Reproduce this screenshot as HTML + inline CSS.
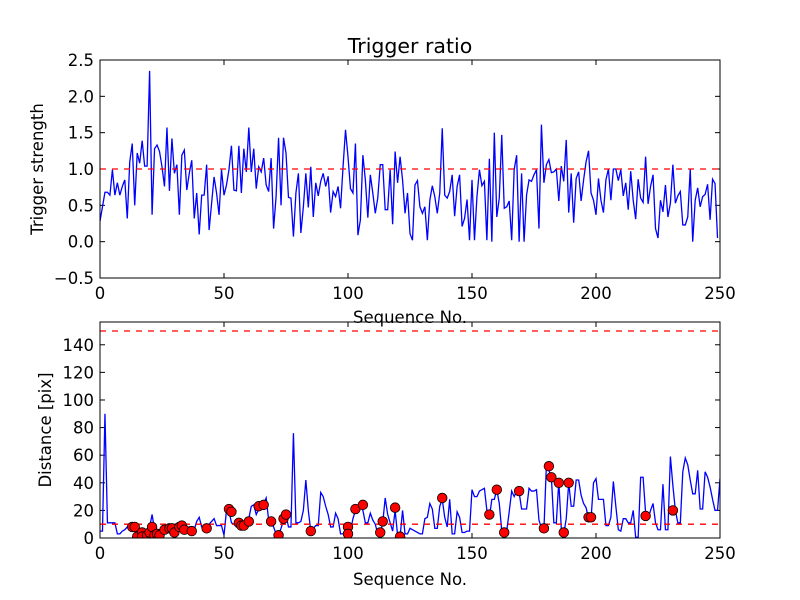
<!DOCTYPE html>
<html><head><meta charset="utf-8"><style>
html,body{margin:0;padding:0;background:#fff;}
svg{display:block;font-family:"DejaVu Sans","Liberation Sans",sans-serif;}
</style></head><body>
<svg id="chart" width="800" height="600" viewBox="0 0 800 600" xmlns="http://www.w3.org/2000/svg">
<rect x="0" y="0" width="800" height="600" fill="#fff"/>
</svg>
<script>
const topValues = [0.28,0.48,0.68,0.68,0.64,0.99,0.64,0.81,0.64,0.76,0.85,0.32,1.10,1.35,0.50,1.22,1.08,1.39,1.04,1.04,2.35,0.37,1.28,1.33,1.24,1.03,0.76,1.57,0.70,1.42,0.94,1.06,0.37,1.19,1.26,0.71,0.94,1.12,0.32,0.67,0.10,0.64,0.64,1.06,0.16,0.53,0.89,0.67,0.37,0.99,0.64,0.78,0.99,1.32,0.71,0.70,1.32,0.67,1.28,0.96,1.57,0.96,1.28,
0.73,1.03,0.96,1.15,0.78,0.69,1.15,0.18,0.62,1.43,0.50,1.43,1.22,0.61,0.60,0.07,0.67,0.94,0.12,0.48,0.94,0.47,1.03,0.34,0.81,0.63,0.83,0.94,0.76,0.90,0.40,0.69,0.62,0.76,0.46,1.03,1.54,1.17,0.73,0.67,1.35,0.09,0.30,1.19,0.85,0.33,0.92,0.67,0.39,0.60,1.06,1.06,0.44,0.44,0.99,0.24,1.24,0.81,1.17,0.85,0.39,0.67,
0.11,0.02,0.78,0.84,0.48,0.39,0.48,0.02,0.57,0.77,0.62,0.39,0.67,1.56,0.64,0.60,0.69,0.92,0.35,0.76,0.92,0.21,0.32,0.58,0.02,0.85,0.02,0.62,0.99,0.77,0.83,0.02,1.14,0.0,1.5,0.34,0.60,1.47,0.46,0.48,0.56,0.02,0.99,1.19,0.0,0.94,0.0,0.64,0.85,0.83,0.92,0.99,0.18,1.61,0.81,1.06,1.13,0.95,0.96,1.0,0.56,1.04,0.83,
1.40,0.40,0.94,0.26,0.87,0.96,0.56,0.85,1.10,1.25,0.67,0.57,0.37,0.87,0.57,0.40,0.85,1.0,0.57,1.0,1.0,0.84,0.99,0.63,0.81,0.44,0.97,0.57,0.31,0.86,0.60,0.54,1.17,0.52,0.76,0.92,0.18,0.05,0.57,0.41,0.78,0.34,0.53,1.06,0.53,0.63,0.69,0.23,0.23,0.34,1.0,0.0,0.57,0.74,0.48,0.62,0.65,0.79,0.30,0.86,0.80,0.05];
const bottomValues = [5,5,90,11,11,11,11,3,3,5,6,8,8,9,10,3,2,5,6,6,8,17,6,3,3,3,3,5,5,6,8,8,6,6,5,5,8,8,6,12,15,8,7,7,10,12,14,9,9,9,2,20,20,11,10,8,9,10,11,12,14,23,24,
17,21,23,25,29,13,11,8,3,2,7,13,17,8,8,76,11,11,12,20,42,20,5,7,9,9,33,30,23,17,8,8,18,14,3,3,5,2,5,14,20,21,23,20,11,11,18,13,10,3,3,11,29,17,11,5,20,2,1,20,3,3,
7,6,5,4,3,3,14,15,25,21,7,7,23,28,15,8,28,3,3,19,15,4,4,5,5,35,30,30,34,35,36,20,15,28,28,35,25,5,3,5,19,34,30,34,33,21,21,21,36,34,34,35,13,7,6,53,49,44,11,11,41,7,3,14,
40,23,23,42,42,31,25,22,14,14,40,43,28,28,28,9,9,15,41,23,6,5,14,14,11,11,20,0.5,0.5,44,44,18,14,20,25,11,6,6,39,6,6,59,38,20,11,11,48,58,53,42,32,32,49,21,21,48,44,37,28,20,20,43];
const dotSeq = [13,14,15,17,17,19,20,21,22,23,24,26,28,29,30,32,33,34,37,43,52,53,56,57,58,60,64,66,69,72,74,75,85,100,100,103,106,113,114,119,121,138,157,160,163,169,179,181,182,185,187,189,197,198,220,231];
const dotDist = [8,8,1,4,1,2,4,8,2,3,2,6,7,7,4,8,9,6,5,7,21,19,11,9,9,12,23,24,12,2,14,17,5,8,3,21,24,4,12,22,1,29,17,35,4,34,7,52,44,40,4,40,15,15,16,20];
const topTicksY = [-0.5,0.0,0.5,1.0,1.5,2.0,2.5];
const bottomTicksY = [0,20,40,60,80,100,120,140];
const ticksX = [0,50,100,150,200,250];
const topThreshold = [1.0];
const bottomThresholds = [10,150];

const NS = "http://www.w3.org/2000/svg";
const svgEl = document.getElementById('chart');
function mk(tag, attrs, parent){
  const e = document.createElementNS(NS, tag);
  for (const k in attrs) e.setAttribute(k, attrs[k]);
  (parent||svgEl).appendChild(e);
  return e;
}
const L = 100, R = 720;
const xS = v => L + (v/250)*(R-L);
const axTopCfg = {t:60, b:278, min:-0.5, max:2.5};
const axBotCfg = {t:322, b:538, min:0, max:156.5};
const yT = v => axTopCfg.b - (v-axTopCfg.min)/(axTopCfg.max-axTopCfg.min)*(axTopCfg.b-axTopCfg.t);
const yB = v => axBotCfg.b - (v-axBotCfg.min)/(axBotCfg.max-axBotCfg.min)*(axBotCfg.b-axBotCfg.t);

function axes(ax, yF, ticksY, fmt, name){
  const g = mk('g', {});
  
  
  const cp = mk('clipPath', {id:'clip-'+name}, g);
  mk('rect', {x:L, y:ax.t, width:R-L, height:ax.b-ax.t}, cp);
  for (const t of ticksX){
    const x = xS(t);
    mk('line', {x1:x, y1:ax.b, x2:x, y2:ax.b-5, stroke:'#000','stroke-width':1}, g);
    mk('line', {x1:x, y1:ax.t, x2:x, y2:ax.t+5, stroke:'#000','stroke-width':1}, g);
    const tx = mk('text', {x:x, y:ax.b+21, 'text-anchor':'middle','font-size':16.5, fill:'#000'}, g);
    
    
    tx.textContent = t;
  }
  for (const t of ticksY){
    const y = yF(t);
    mk('line', {x1:L, y1:y, x2:L+5, y2:y, stroke:'#000','stroke-width':1}, g);
    mk('line', {x1:R, y1:y, x2:R-5, y2:y, stroke:'#000','stroke-width':1}, g);
    const tx = mk('text', {x:L-6, y:y+6, 'text-anchor':'end','font-size':16.5, fill:'#000'}, g);
    
    
    tx.textContent = fmt(t);
  }
  return g;
}
function fmtTop(t){ return (t<0?'\u22120.5':t.toFixed(1)); }
const gTop = axes(axTopCfg, yT, topTicksY, fmtTop, 'top-axes');
const gBot = axes(axBotCfg, yB, bottomTicksY, t=>String(t), 'bottom-axes');

let d = topValues.map((v,i)=>(i?'L':'M')+xS(i).toFixed(2)+' '+yT(v).toFixed(2)).join(' ');
const p1 = mk('path', {d:d, fill:'none', stroke:'#0000ff','stroke-width':1.3,'clip-path':'url(#clip-top-axes)'}, gTop);


for (const th of topThreshold){
  const l = mk('line', {x1:L, x2:R, y1:yT(th), y2:yT(th), stroke:'#ff0000','stroke-width':1.3,'stroke-dasharray':'6,6'}, gTop);
  
  
}
d = bottomValues.map((v,i)=>(i?'L':'M')+xS(i).toFixed(2)+' '+yB(v).toFixed(2)).join(' ');
const p2 = mk('path', {d:d, fill:'none', stroke:'#0000ff','stroke-width':1.3,'clip-path':'url(#clip-bottom-axes)'}, gBot);


for (const th of bottomThresholds){
  const l = mk('line', {x1:L, x2:R, y1:yB(th), y2:yB(th), stroke:'#ff0000','stroke-width':1.3,'stroke-dasharray':'6,6'}, gBot);
  
  
}
dotSeq.forEach((s,i)=>{
  const c = mk('circle', {cx:xS(s), cy:yB(dotDist[i]), r:4.8, fill:'#ff0000', stroke:'#000','stroke-width':0.8,'clip-path':'url(#clip-bottom-axes)'}, gBot);
  
  
});
for (const ax of [axTopCfg, axBotCfg]){
  const f = mk('rect', {x:L, y:ax.t, width:R-L, height:ax.b-ax.t, fill:'none', stroke:'#000','stroke-width':1});
  
  
}
function label(txt, attrs, name){
  const t = mk('text', Object.assign({fill:'#000','text-anchor':'middle'}, attrs));
  
  
  t.textContent = txt;
}
label('Trigger ratio', {x:410, y:53, 'font-size':20.5}, 'chart-title');
label('Sequence No.', {x:410, y:323, 'font-size':16.5}, 'top-x-axis-title');
label('Sequence No.', {x:410, y:585, 'font-size':16.5}, 'bottom-x-axis-title');
label('Trigger strength', {x:0, y:0, 'font-size':16.5, transform:'translate(43,169) rotate(-90)'}, 'top-y-axis-title');
label('Distance [pix]', {x:0, y:0, 'font-size':16.5, transform:'translate(51,430) rotate(-90)'}, 'bottom-y-axis-title');
</script>
</body></html>
